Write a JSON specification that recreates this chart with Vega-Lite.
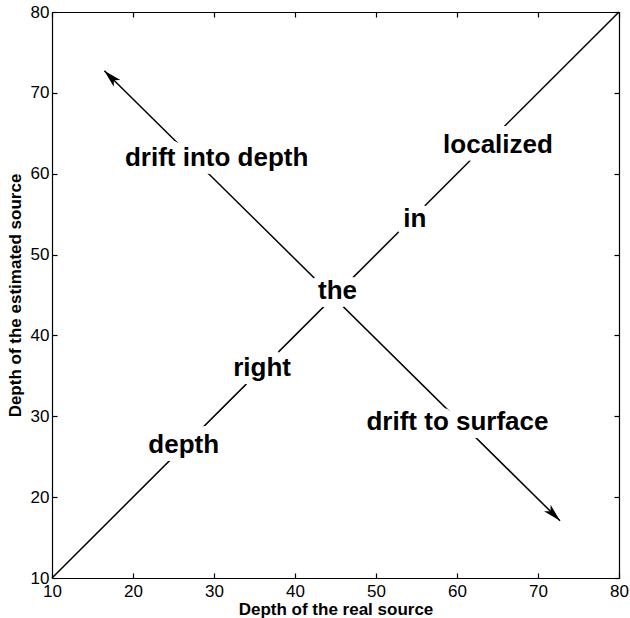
{
  "$schema": "https://vega.github.io/schema/vega-lite/v6.json",
  "autosize": {"type": "none"},
  "padding": {"left": 52, "top": 12, "right": 11, "bottom": 40},
  "width": 567,
  "height": 566,
  "background": "white",
  "config": {
    "view": {"stroke": null},
    "font": "Liberation Sans",
    "axis": {
      "domainColor": "black", "domainWidth": 1.2,
      "tickColor": "black", "tickWidth": 1.2, "tickSize": -5,
      "labelColor": "black", "labelFont": "Liberation Sans", "labelFontSize": 17,
      "titleColor": "black", "titleFont": "Liberation Sans", "titleFontSize": 17, "titleFontWeight": "bold",
      "grid": false, "labelFlush": false, "labelOverlap": false
    }
  },
  "datasets": {
    "diag": [{"x": 10, "y": 10}, {"x": 80, "y": 80}],
    "arrow": [{"x": 16.46, "y": 72.74}, {"x": 72.72, "y": 17.08}],
    "headUp": [{"x": 16.46, "y": 72.74}],
    "headDown": [{"x": 72.72, "y": 17.08}],
    "labels": [
      {"label": "drift into depth", "x": 30.33, "y": 61.93},
      {"label": "localized", "x": 65.06, "y": 63.56},
      {"label": "in", "x": 54.8, "y": 54.39},
      {"label": "the", "x": 45.25, "y": 45.49},
      {"label": "right", "x": 35.93, "y": 35.97},
      {"label": "depth", "x": 26.26, "y": 26.45},
      {"label": "drift to surface", "x": 60.06, "y": 29.3}
    ]
  },
  "resolve": {"axis": {"x": "independent", "y": "independent"}},
  "layer": [
    {
      "data": {"name": "diag"},
      "mark": {"type": "line", "color": "black", "strokeWidth": 1.5},
      "encoding": {
        "x": {"field": "x", "type": "quantitative", "scale": {"domain": [10, 80], "nice": false, "zero": false},
              "axis": {"orient": "bottom", "values": [10, 20, 30, 40, 50, 60, 70, 80], "title": "Depth of the real source", "labelPadding": 10, "titlePadding": 2}},
        "y": {"field": "y", "type": "quantitative", "scale": {"domain": [10, 80], "nice": false, "zero": false},
              "axis": {"orient": "left", "values": [10, 20, 30, 40, 50, 60, 70, 80], "title": "Depth of the estimated source", "labelPadding": 8, "titlePadding": 6}}
      }
    },
    {
      "data": {"name": "arrow"},
      "mark": {"type": "line", "color": "black", "strokeWidth": 1.5},
      "encoding": {
        "x": {"field": "x", "type": "quantitative",
              "axis": {"orient": "top", "values": [10, 20, 30, 40, 50, 60, 70, 80], "labels": false, "title": null}},
        "y": {"field": "y", "type": "quantitative",
              "axis": {"orient": "right", "values": [10, 20, 30, 40, 50, 60, 70, 80], "labels": false, "title": null}}
      }
    },
    {
      "data": {"name": "headUp"},
      "mark": {"type": "point", "shape": "M0,0L0.52,2L0,1.5L-0.52,2Z", "size": 324, "angle": -45, "filled": true, "color": "black", "opacity": 1, "strokeWidth": 0},
      "encoding": {
        "x": {"field": "x", "type": "quantitative", "axis": null},
        "y": {"field": "y", "type": "quantitative", "axis": null}
      }
    },
    {
      "data": {"name": "headDown"},
      "mark": {"type": "point", "shape": "M0,0L0.52,2L0,1.5L-0.52,2Z", "size": 324, "angle": 135, "filled": true, "color": "black", "opacity": 1, "strokeWidth": 0},
      "encoding": {
        "x": {"field": "x", "type": "quantitative", "axis": null},
        "y": {"field": "y", "type": "quantitative", "axis": null}
      }
    },
    {
      "data": {"name": "labels"},
      "mark": {"type": "text", "font": "Liberation Sans", "fontSize": 26, "fontWeight": "bold", "fill": "white", "stroke": "white", "strokeWidth": 16, "strokeJoin": "round", "baseline": "middle", "align": "center"},
      "encoding": {
        "x": {"field": "x", "type": "quantitative", "axis": null},
        "y": {"field": "y", "type": "quantitative", "axis": null},
        "text": {"field": "label"}
      }
    },
    {
      "data": {"name": "labels"},
      "mark": {"type": "text", "font": "Liberation Sans", "fontSize": 26, "fontWeight": "bold", "color": "black", "baseline": "middle", "align": "center"},
      "encoding": {
        "x": {"field": "x", "type": "quantitative", "axis": null},
        "y": {"field": "y", "type": "quantitative", "axis": null},
        "text": {"field": "label"}
      }
    }
  ]
}
